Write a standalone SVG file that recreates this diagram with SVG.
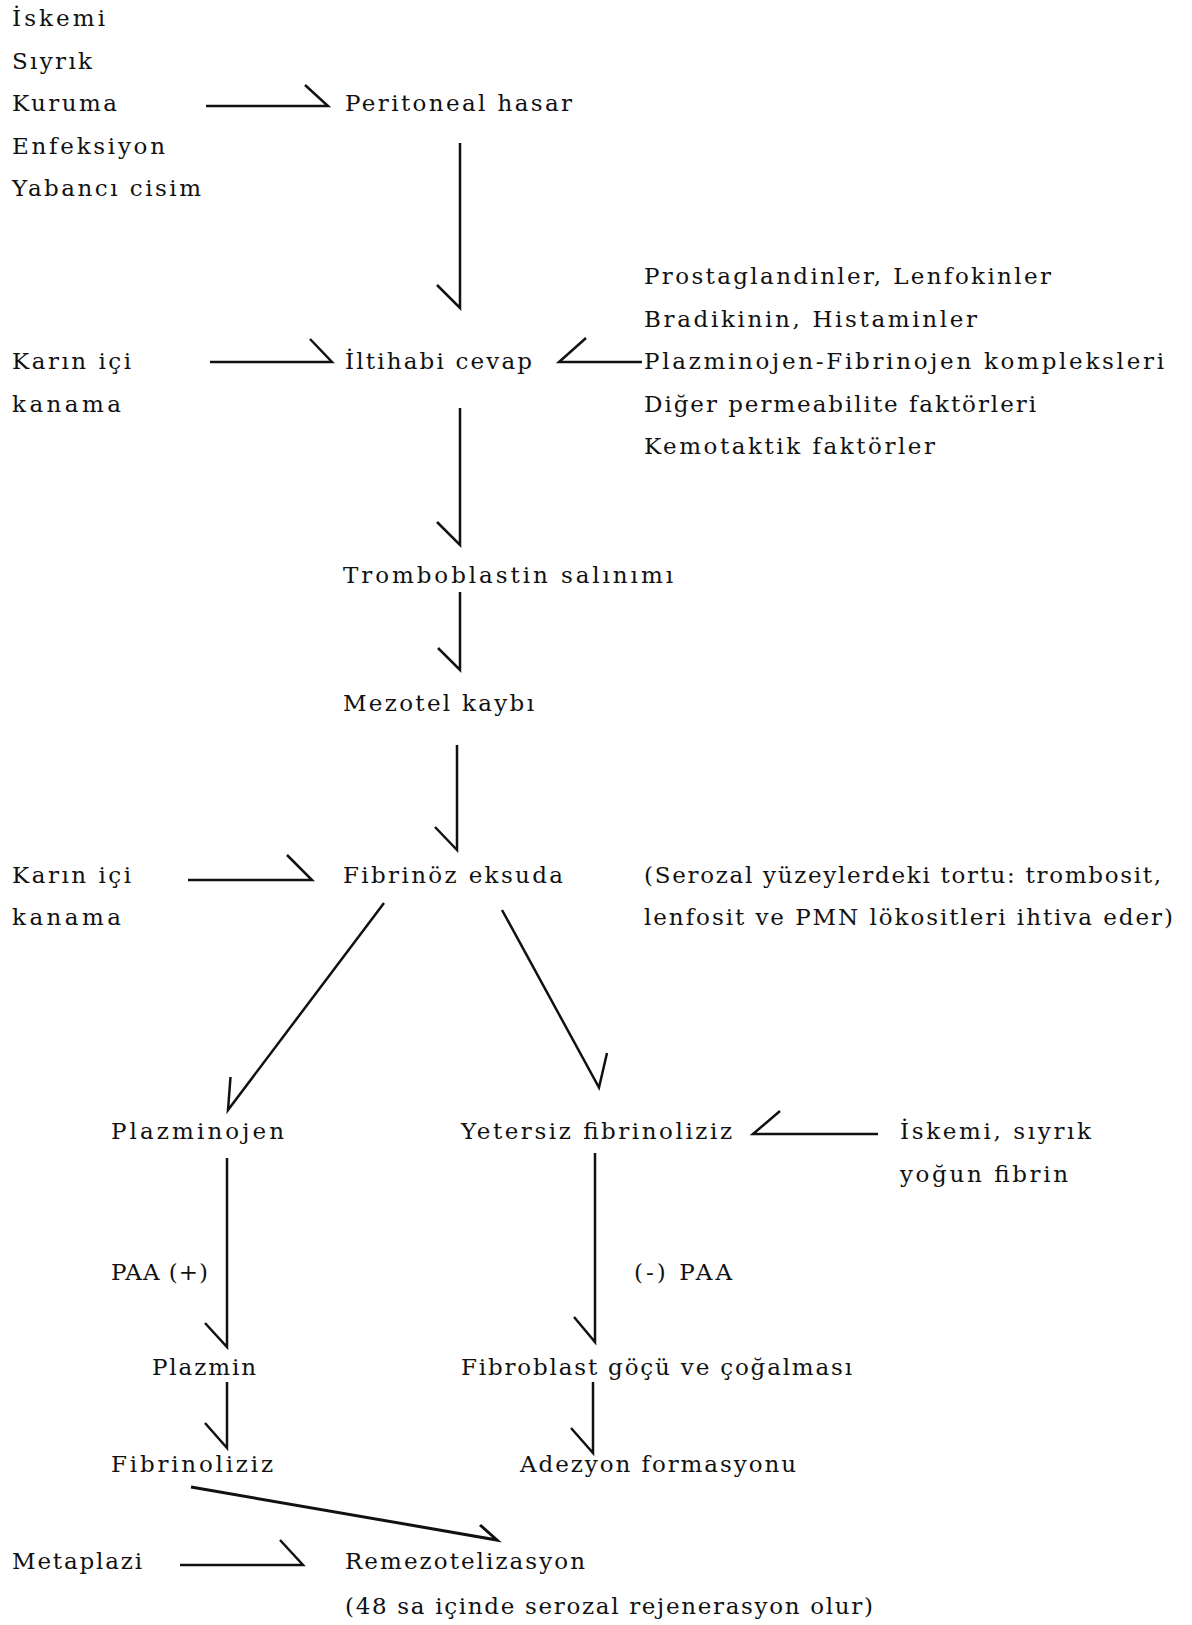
<svg xmlns="http://www.w3.org/2000/svg" width="1192" height="1625" viewBox="0 0 1192 1625">
<style>
text{font-family:"DejaVu Serif","Liberation Serif",serif;font-size:23px;fill:#111}
.c{fill:none;stroke:#111;stroke-width:2.5;stroke-linejoin:miter;stroke-linecap:butt}
.t{stroke-width:3}
</style>
<rect width="1192" height="1625" fill="#fff"/>
<g id="causes">
<text x="12" y="26" textLength="93" lengthAdjust="spacing">İskemi</text>
<text x="12" y="68.5" textLength="80" lengthAdjust="spacing">Sıyrık</text>
<text x="12" y="111" textLength="105" lengthAdjust="spacing">Kuruma</text>
<text x="12" y="153.5" textLength="153" lengthAdjust="spacing">Enfeksiyon</text>
<text x="12" y="196" textLength="189" lengthAdjust="spacing">Yabancı cisim</text>
</g>
<g id="peritoneal"><text x="345" y="111" textLength="227" lengthAdjust="spacing">Peritoneal hasar</text></g>
<g id="factors">
<text x="644" y="284" textLength="407" lengthAdjust="spacing">Prostaglandinler, Lenfokinler</text>
<text x="644" y="326.5" textLength="333" lengthAdjust="spacing">Bradikinin, Histaminler</text>
<text x="644" y="369" textLength="520" lengthAdjust="spacing">Plazminojen-Fibrinojen kompleksleri</text>
<text x="644" y="411.5" textLength="392" lengthAdjust="spacing">Diğer permeabilite faktörleri</text>
<text x="644" y="454" textLength="291" lengthAdjust="spacing">Kemotaktik faktörler</text>
</g>
<g id="kanama1">
<text x="12" y="369" textLength="119" lengthAdjust="spacing">Karın içi</text>
<text x="12" y="411.5" textLength="109" lengthAdjust="spacing">kanama</text>
</g>
<g id="iltihabi"><text x="345" y="369" textLength="187" lengthAdjust="spacing">İltihabi cevap</text></g>
<g id="tromboblastin"><text x="343" y="583" textLength="330" lengthAdjust="spacing">Tromboblastin salınımı</text></g>
<g id="mezotel"><text x="343" y="711" textLength="191" lengthAdjust="spacing">Mezotel kaybı</text></g>
<g id="kanama2">
<text x="12" y="883" textLength="119" lengthAdjust="spacing">Karın içi</text>
<text x="12" y="925" textLength="109" lengthAdjust="spacing">kanama</text>
</g>
<g id="fibrinoz"><text x="343" y="883" textLength="220" lengthAdjust="spacing">Fibrinöz eksuda</text></g>
<g id="serozal">
<text x="644" y="883" textLength="517" lengthAdjust="spacing">(Serozal yüzeylerdeki tortu: trombosit,</text>
<text x="644" y="925" textLength="529" lengthAdjust="spacing">lenfosit ve PMN lökositleri ihtiva eder)</text>
</g>
<g id="plazminojen"><text x="111" y="1139" textLength="173" lengthAdjust="spacing">Plazminojen</text></g>
<g id="yetersiz"><text x="461" y="1139" textLength="271" lengthAdjust="spacing">Yetersiz fibrinoliziz</text></g>
<g id="iskemi2">
<text x="900" y="1139" textLength="191" lengthAdjust="spacing">İskemi, sıyrık</text>
<text x="900" y="1181.5" textLength="168" lengthAdjust="spacing">yoğun fibrin</text>
</g>
<g id="paa-plus"><text x="111" y="1280" textLength="97" lengthAdjust="spacing">PAA (+)</text></g>
<g id="paa-minus"><text x="634" y="1280" textLength="98" lengthAdjust="spacing">(-) PAA</text></g>
<g id="plazmin"><text x="152" y="1375" textLength="104" lengthAdjust="spacing">Plazmin</text></g>
<g id="fibroblast"><text x="461" y="1375" textLength="391" lengthAdjust="spacing">Fibroblast göçü ve çoğalması</text></g>
<g id="fibrinoliziz"><text x="111" y="1472" textLength="162" lengthAdjust="spacing">Fibrinoliziz</text></g>
<g id="adezyon"><text x="520" y="1472" textLength="276" lengthAdjust="spacing">Adezyon formasyonu</text></g>
<g id="metaplazi"><text x="12" y="1569" textLength="130" lengthAdjust="spacing">Metaplazi</text></g>
<g id="remezotelizasyon">
<text x="345" y="1569" textLength="240" lengthAdjust="spacing">Remezotelizasyon</text>
<text x="345" y="1614" textLength="528" lengthAdjust="spacing">(48 sa içinde serozal rejenerasyon olur)</text>
</g>
<g id="connectors">
<path class="c" d="M206 106 L328 106 L305 85"/>
<path class="c" d="M460 143 L460 308 L437 285"/>
<path class="c" d="M210 362 L332 362 L310 339"/>
<path class="c" d="M642 362 L559 362 L586 338"/>
<path class="c" d="M460 408 L460 545 L437 522"/>
<path class="c" d="M460 592 L460 670 L438 648"/>
<path class="c" d="M457 745 L457 850 L435 827"/>
<path class="c" d="M188 880 L312 880 L287 855"/>
<path class="c" d="M384 903 L228 1110 L230.5 1077"/>
<path class="c" d="M502 910 L599 1087.5 L607 1053"/>
<path class="c" d="M878 1134 L753 1134 L780 1111"/>
<path class="c" d="M227 1158 L227 1347 L205 1323"/>
<path class="c" d="M595 1153 L595 1342 L574 1317"/>
<path class="c" d="M227 1382 L227 1448 L205 1423"/>
<path class="c" d="M593 1382 L593 1453 L571 1428"/>
<path class="c t" d="M191 1487 L497 1540 L480 1525"/>
<path class="c" d="M180 1565 L303 1565 L280 1540"/>
</g>
</svg>
